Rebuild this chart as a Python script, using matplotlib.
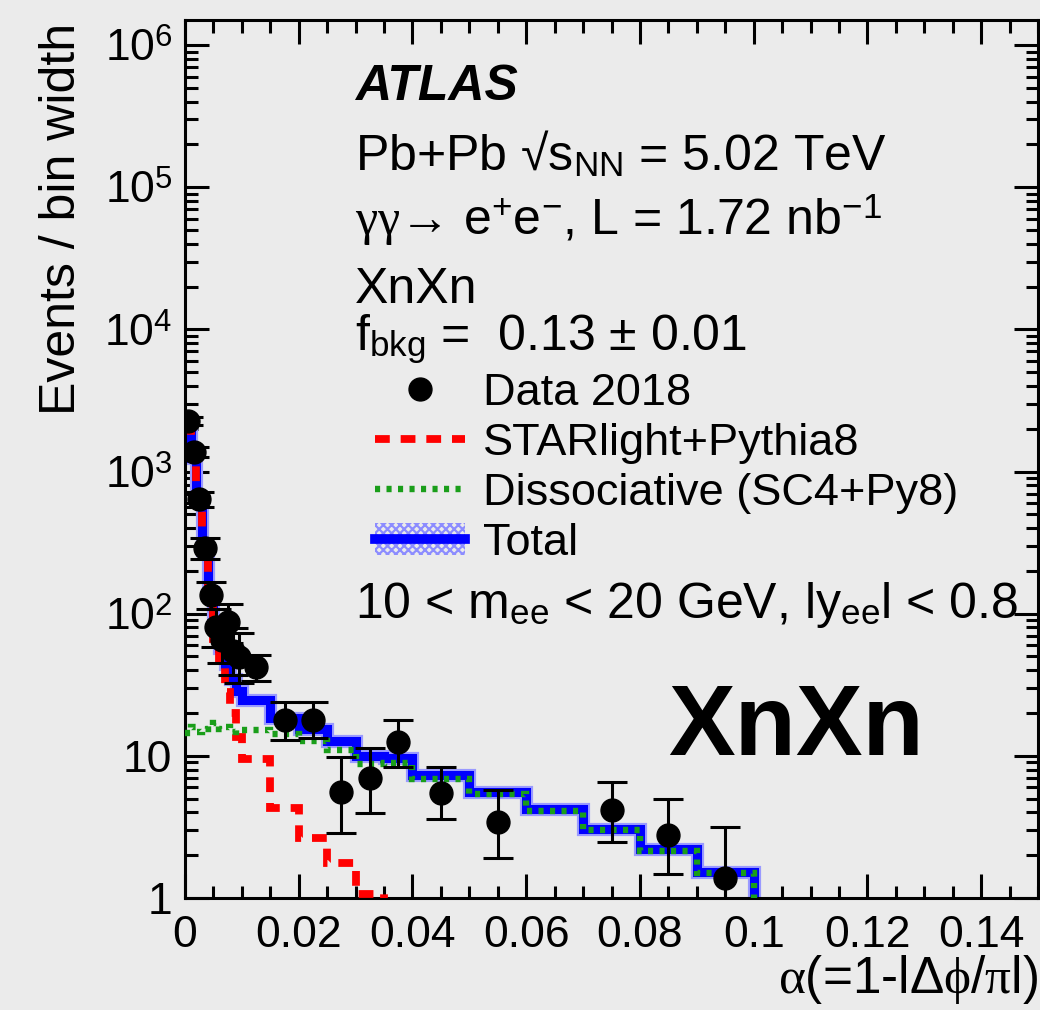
import math
import matplotlib
matplotlib.use("Agg")
import matplotlib.pyplot as plt
import matplotlib.patheffects as pe
from matplotlib.lines import Line2D
from matplotlib.patches import Patch
from matplotlib.ticker import FixedLocator, MultipleLocator, FuncFormatter, NullFormatter

# ---- histogram binning in alpha = 1 - |dphi/pi| ----
bin_edges = [0.000, 0.001, 0.002, 0.003, 0.004, 0.005, 0.006, 0.007, 0.008, 0.009, 0.010,
             0.015, 0.020, 0.025, 0.030, 0.035, 0.040, 0.050, 0.060, 0.070, 0.080, 0.090,
             0.100, 0.150]

# model templates (events / bin width)
starlight = [2080, 1235, 625, 266, 124, 66, 42, 28, 20, 13.5,
             9.5, 4.3, 2.65, 1.75, 1.06, 0.70, 0.40, 0.22, 0.12, 0.07, 0.04, 0.02, 0.0]
dissociative = [14.5, 16.0, 14.8, 15.5, 16.5, 17.0, 15.5, 16.0, 14.8, 15.2,
                15.2, 14.2, 12.8, 11.0, 8.8, 8.9, 6.9, 5.4, 4.1, 3.0, 2.15, 1.5, 0.0]
total = [2095, 1251, 640, 282, 141, 83, 57.5, 44, 34.8, 28.7,
         24.7, 18.5, 15.5, 12.8, 9.9, 9.6, 7.3, 5.6, 4.2, 3.06, 2.2, 1.52, 0.0]

# data 2018
data_x = [0.0005, 0.0015, 0.0025, 0.0035, 0.0045, 0.0055, 0.0065, 0.0075, 0.0085, 0.0095,
          0.0125, 0.0175, 0.0225, 0.0275, 0.0325, 0.0375, 0.045, 0.055, 0.075, 0.085, 0.095]
data_y = [2260, 1370, 640, 289, 136, 80, 65, 87, 55, 49.5,
          42, 17.9, 17.9, 5.56, 6.98, 12.5, 5.47, 3.42, 4.16, 2.77, 1.38]
err_up = [150, 120, 80, 54, 32, 28, 26, 30, 24, 23.5,
          9.5, 6.1, 6.1, 4.3, 4.3, 5.3, 2.9, 2.3, 2.4, 2.2, 1.8]
err_dn = [140, 110, 75, 48, 28, 22, 20, 25, 18, 17,
          8.5, 5.0, 4.6, 2.7, 3.0, 4.1, 1.9, 1.5, 1.7, 1.3, 1.2]

x_ticks = [0, 0.02, 0.04, 0.06, 0.08, 0.10, 0.12, 0.14]
y_ticks = [1, 10, 1e2, 1e3, 1e4, 1e5, 1e6]

# ---- style ----
plt.rcParams["font.family"] = ["Liberation Sans", "DejaVu Sans"]
plt.rcParams["mathtext.fontset"] = "custom"
plt.rcParams["mathtext.rm"] = "Liberation Sans"
plt.rcParams["mathtext.it"] = "Liberation Serif"
plt.rcParams["mathtext.bf"] = "Liberation Sans:bold"
plt.rcParams["mathtext.sf"] = "Liberation Sans"
plt.rcParams["hatch.linewidth"] = 1.6

BG = "#ebebeb"
RED = "#ff0000"
GREEN = "#1a9e1a"
BLUE = "#0000ff"

W, H = 1040, 1010
fig = plt.figure(figsize=(W / 100, H / 100), dpi=100, facecolor=BG)
x0, x1, y0, y1 = 185, 1038, 20, 898
ax = fig.add_axes([x0 / W, 1 - y1 / H, (x1 - x0) / W, (y1 - y0) / H], facecolor=BG)


def px(x, y):
    return x / W, 1 - y / H


# total prediction, signal and dissociative templates
ax.stairs(total, bin_edges, color=BLUE, lw=6.5, baseline=None, zorder=2,
          path_effects=[pe.Stroke(linewidth=9.5, foreground="#9a9aff"), pe.Normal()])
ax.stairs(starlight, bin_edges, color=RED, lw=5.6, ls=(0, (1.9, 1.4)), baseline=None, zorder=3)
ax.stairs(dissociative, bin_edges, color=GREEN, lw=4.6, ls=(0, (0.8, 1.0)), baseline=None, zorder=3)

ax.errorbar(data_x, data_y, yerr=[err_dn, err_up], fmt="o", color="k", ms=16.5,
            elinewidth=2.2, capsize=11, capthick=2.2, zorder=5)

ax.set_yscale("log")
ax.set_xlim(0, 0.15)
ax.set_ylim(1, 1.5e6)

ax.xaxis.set_major_locator(FixedLocator(x_ticks))
ax.xaxis.set_minor_locator(MultipleLocator(0.005))
ax.xaxis.set_major_formatter(FuncFormatter(lambda v, p: f"{v:g}"))
ax.yaxis.set_major_locator(FixedLocator(y_ticks))
ax.yaxis.set_minor_locator(FixedLocator([m * 10 ** e for e in range(0, 6) for m in range(2, 10)]))
ax.yaxis.set_minor_formatter(NullFormatter())


def ylab(v, p):
    if v < 1.5:
        return "1"
    if v < 15:
        return "10"
    return r"$10^{%d}$" % round(math.log10(v))


ax.yaxis.set_major_formatter(FuncFormatter(ylab))

for s in ax.spines.values():
    s.set_linewidth(2.2)
ax.tick_params(which="both", direction="in", top=True, right=True, width=2.2, labelsize=32)
ax.tick_params(which="major", length=17)
ax.tick_params(which="minor", length=9)
ax.tick_params(axis="x", pad=12)
ax.tick_params(axis="y", pad=9)

ax.set_xlabel(r"$\alpha$(=1-l$\Delta\phi$/$\pi$l)", fontsize=37, loc="right", va="baseline")
ax.xaxis.set_label_coords(1.0, (y1 - 993) / (y1 - y0))
ax.set_ylabel("Events / bin width", fontsize=36, loc="top", va="baseline")
ax.yaxis.set_label_coords((75 - x0) / (x1 - x0), (y1 - 23) / (y1 - y0))

# labels
fs = 36
fig.text(*px(355, 100), "ATLAS", fontsize=fs, fontweight="bold", fontstyle="italic")
fig.text(*px(355, 170), r"Pb+Pb √s$_{\mathrm{NN}}$ = 5.02 TeV", fontsize=fs)
fig.text(*px(355, 235), r"$\gamma\gamma$→ e$^{+}$e$^{-}$, L = 1.72 nb$^{-1}$", fontsize=fs)
fig.text(*px(355, 303), "XnXn", fontsize=fs)
fig.text(*px(355, 350), r"f$_{\mathrm{bkg}}$ =  0.13 ± 0.01", fontsize=fs)
fig.text(*px(355, 618), r"10 < m$_{\mathrm{ee}}$ < 20 GeV, ly$_{\mathrm{ee}}$l < 0.8", fontsize=fs)
fig.text(*px(668, 755), "XnXn", fontsize=72, fontweight="bold")

handles = [
    Line2D([], [], marker="o", color="k", ms=16.5, ls="none"),
    Line2D([], [], color=RED, lw=5.6, ls=(0, (1.9, 1.4))),
    Line2D([], [], color=GREEN, lw=4.6, ls=(0, (0.8, 1.0))),
    (Patch(facecolor="none", edgecolor="#8c8cff", hatch="xxxx", lw=0),
     Line2D([], [], color=BLUE, lw=7)),
]
labels = ["Data 2018", "STARlight+Pythia8", "Dissociative (SC4+Py8)", "Total"]
fig.legend(handles, labels, loc="upper left", bbox_to_anchor=px(375, 373),
           frameon=False, fontsize=32.5, handlelength=2.0, handletextpad=0.4,
           labelspacing=0.2, borderpad=0, borderaxespad=0)

fig.savefig("out.png", dpi=100, facecolor=BG)
